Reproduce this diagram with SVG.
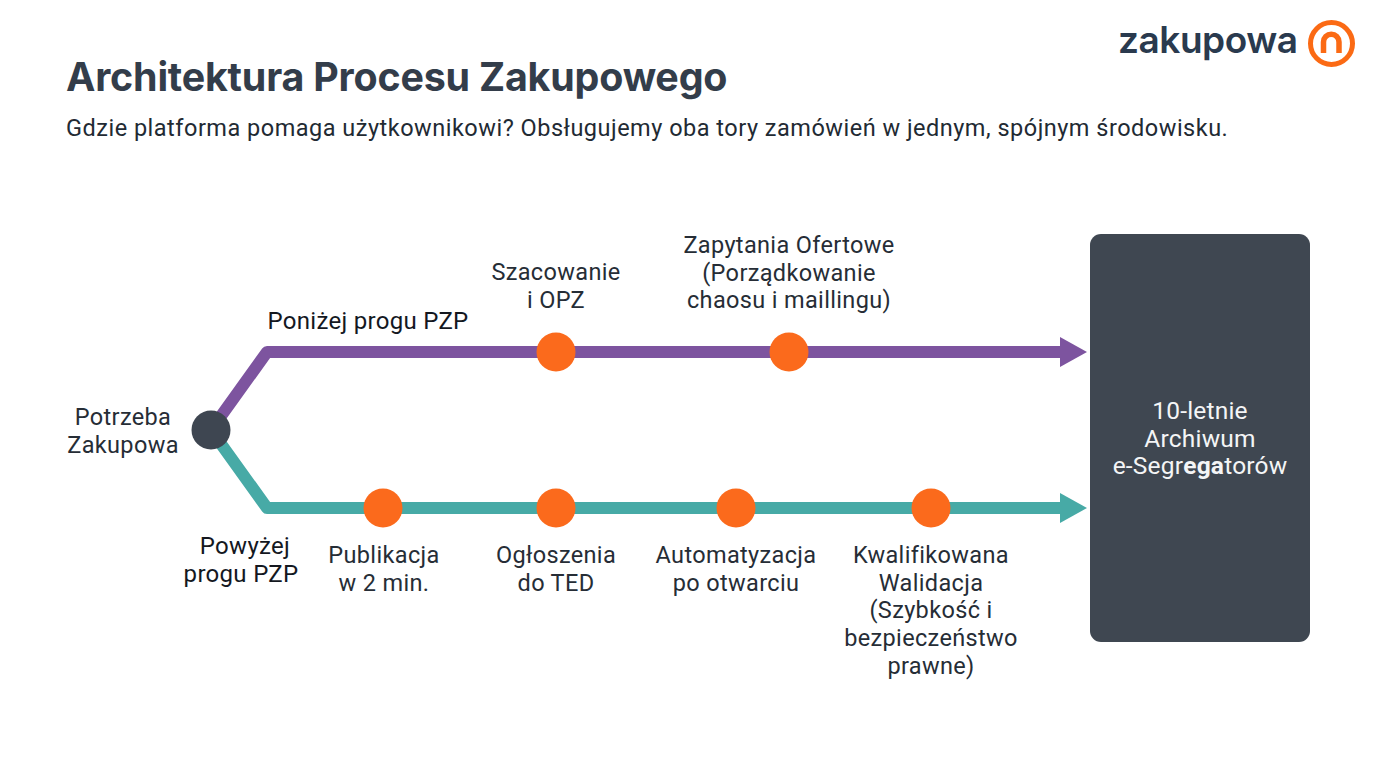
<svg xmlns="http://www.w3.org/2000/svg" width="1376" height="768" viewBox="0 0 1376 768">
<style>
text{font-family:Roboto,"Liberation Sans",sans-serif;fill:#262d36}
.l{font-size:23.5px;text-anchor:middle;letter-spacing:.35px}
.m{font-size:24px;text-anchor:middle;font-weight:450;fill:#14181f;letter-spacing:.3px}
.w{font-size:24.5px;text-anchor:middle;fill:#f4f5f6;font-weight:450;letter-spacing:.2px}
.d{fill:#fb6a1c}
.t{fill:none;stroke-width:12;stroke-linejoin:round}
</style>
<rect width="1376" height="768" fill="#fff"/>
<g id="title">
<text x="66" y="91" font-size="39.4" font-weight="700" style="fill:#333d4a;font-family:Inter,Roboto,sans-serif" letter-spacing="-.2">Architektura Procesu Zakupowego</text>
<text x="66" y="136" font-size="23.5" letter-spacing=".5" style="fill:#222a33">Gdzie platforma pomaga użytkownikowi? Obsługujemy oba tory zamówień w jednym, spójnym środowisku.</text>
</g>
<g id="logo">
<text x="1118" y="53" font-size="37" font-weight="600" style="fill:#2a3a4e;font-family:Inter,Roboto,sans-serif" textLength="180">zakupowa</text>
<circle cx="1331.5" cy="43.500" r="21" fill="none" stroke="#fb6a14" stroke-width="5"/>
<path d="M1323.500 53V42a7.750 7.750 0 0 1 15.500 0V53" fill="none" stroke="#fb6a14" stroke-width="5.500"/>
</g>
<g id="connectors">
<path class="t" d="M211 430L267 352H1062" stroke="#7d549f"/>
<path d="M1060 337L1087 352L1060 367Z" fill="#7d549f"/>
<path class="t" d="M211 430L267 508H1062" stroke="#47aaa6"/>
<path d="M1060 493L1087 508L1060 523Z" fill="#47aaa6"/>
</g>
<g id="start">
<circle cx="211" cy="430" r="19.500" fill="#3e4651"/>
<text class="l"><tspan x="123" y="425">Potrzeba</tspan><tspan x="123" y="453">Zakupowa</tspan></text>
</g>
<g id="label-below"><text class="m" x="368" y="329">Poniżej progu PZP</text></g>
<g id="label-above"><text class="m"><tspan x="245" y="554">Powyżej</tspan><tspan x="241" y="582">progu PZP</tspan></text></g>
<g id="n-szacowanie">
<circle class="d" cx="556" cy="352" r="19.500"/>
<text class="l"><tspan x="556" y="280">Szacowanie</tspan><tspan x="556" y="308">i OPZ</tspan></text>
</g>
<g id="n-zapytania">
<circle class="d" cx="789" cy="352" r="19.500"/>
<text class="l"><tspan x="789" y="253">Zapytania Ofertowe</tspan><tspan x="789" y="281">(Porządkowanie</tspan><tspan x="789" y="308">chaosu i maillingu)</tspan></text>
</g>
<g id="n-publikacja">
<circle class="d" cx="383" cy="508" r="19.500"/>
<text class="l"><tspan x="384" y="563">Publikacja</tspan><tspan x="384" y="591">w 2 min.</tspan></text>
</g>
<g id="n-ogloszenia">
<circle class="d" cx="556" cy="508" r="19.500"/>
<text class="l"><tspan x="556" y="563">Ogłoszenia</tspan><tspan x="556" y="591">do TED</tspan></text>
</g>
<g id="n-automatyzacja">
<circle class="d" cx="736" cy="508" r="19.500"/>
<text class="l"><tspan x="736" y="563">Automatyzacja</tspan><tspan x="736" y="591">po otwarciu</tspan></text>
</g>
<g id="n-kwalifikowana">
<circle class="d" cx="931" cy="508" r="19.500"/>
<text class="l"><tspan x="931" y="563">Kwalifikowana</tspan><tspan x="931" y="591">Walidacja</tspan><tspan x="931" y="618">(Szybkość i</tspan><tspan x="931" y="646">bezpieczeństwo</tspan><tspan x="931" y="674">prawne)</tspan></text>
</g>
<g id="archive">
<rect x="1090" y="234" width="220" height="408" rx="11" fill="#3f4751"/>
<text class="w"><tspan x="1200" y="419">10-letnie</tspan><tspan x="1200" y="447">Archiwum</tspan><tspan x="1200" y="474">e-Segr<tspan font-weight="700">ega</tspan>torów</tspan></text>
</g>
</svg>
